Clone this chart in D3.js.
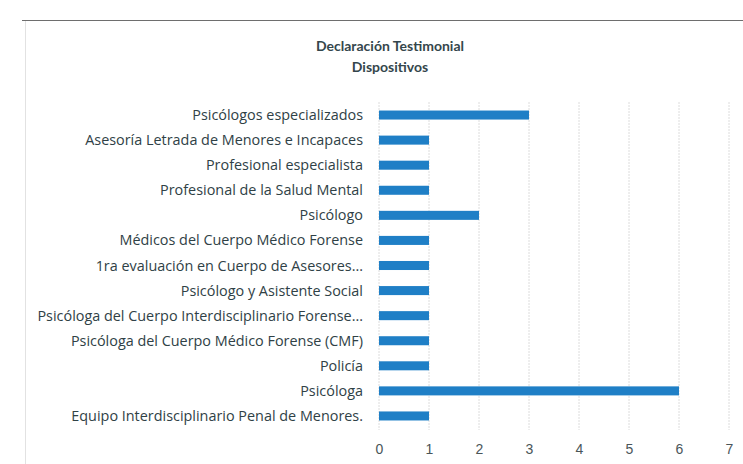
<!DOCTYPE html>
<html>
<head>
<meta charset="utf-8">
<title>Declaración Testimonial - Dispositivos</title>
<script src="https://cdn.jsdelivr.net/npm/d3@7"></script>
<style>
  body { margin: 0; background: #fff; }
  svg { display: block; font-family: "Open Sans", Lato, sans-serif; }
  .grid line { stroke: #dcdcdc; stroke-width: 1; stroke-dasharray: 2,1; }
  .label { fill: #2f4146; font-size: 14.4px; }
  .tick-label { fill: #4a5559; font-size: 14px; }
  .title { fill: #34464c; font-size: 14px; font-weight: bold; font-family: Lato, sans-serif; }
</style>
</head>
<body>
<script>
var width = 743, height = 464;

var categories = [
  "Psicólogos especializados",
  "Asesoría Letrada de Menores e Incapaces",
  "Profesional especialista",
  "Profesional de la Salud Mental",
  "Psicólogo",
  "Médicos del Cuerpo Médico Forense",
  "1ra evaluación en Cuerpo de Asesores...",
  "Psicólogo y Asistente Social",
  "Psicóloga del Cuerpo Interdisciplinario Forense...",
  "Psicóloga del Cuerpo Médico Forense (CMF)",
  "Policía",
  "Psicóloga",
  "Equipo Interdisciplinario Penal de Menores."
];
var values = [3, 1, 1, 1, 2, 1, 1, 1, 1, 1, 1, 6, 1];
var xTicks = [0, 1, 2, 3, 4, 5, 6, 7];
var titleLines = ["Declaración Testimonial", "Dispositivos"];

var svg = d3.select("body").append("svg")
    .attr("width", width)
    .attr("height", height);

// scanned page frame
svg.append("line")
    .attr("x1", 22).attr("x2", width)
    .attr("y1", 20.5).attr("y2", 20.5)
    .attr("stroke", "#6e6e6e").attr("stroke-width", 1.2);
svg.append("line")
    .attr("x1", 25.5).attr("x2", 25.5)
    .attr("y1", 21).attr("y2", height)
    .attr("stroke", "#e2e2e2").attr("stroke-width", 1);

var x = d3.scaleLinear().domain([0, 7]).range([379, 729]);
var y = d3.scaleBand().domain(categories).range([102.5, 428.5]).paddingInner(0.64).paddingOuter(0.32);

// grid
svg.append("g").attr("class", "grid")
  .selectAll("line").data(xTicks).enter().append("line")
    .attr("x1", function(d){ return x(d); })
    .attr("x2", function(d){ return x(d); })
    .attr("y1", 102)
    .attr("y2", 430);

// bars
svg.append("g").selectAll("rect").data(values).enter().append("rect")
    .attr("x", x(0))
    .attr("y", function(d, i){ return y(categories[i]); })
    .attr("width", function(d){ return x(d) - x(0); })
    .attr("height", y.bandwidth())
    .attr("fill", "#1f7fc6");

// category labels
svg.append("g").selectAll("text").data(categories).enter().append("text")
    .attr("class", "label")
    .attr("x", 363)
    .attr("y", function(d){ return y(d) + y.bandwidth() / 2; })
    .attr("dy", "0.35em")
    .attr("text-anchor", "end")
    .text(function(d){ return d; });

// x axis labels
var xAxis = d3.axisBottom(x).tickValues(xTicks).tickFormat(d3.format("d")).tickSize(0).tickPadding(0);
var gx = svg.append("g")
    .attr("transform", "translate(0,444)")
    .call(xAxis);
gx.select(".domain").remove();
gx.selectAll("text").attr("class", "tick-label").attr("font-family", null).attr("font-size", null);

// title
svg.append("g").selectAll("text").data(titleLines).enter().append("text")
    .attr("class", "title")
    .attr("x", 390)
    .attr("y", function(d, i){ return 51 + i * 21; })
    .attr("text-anchor", "middle")
    .text(function(d){ return d; });
</script>
</body>
</html>
